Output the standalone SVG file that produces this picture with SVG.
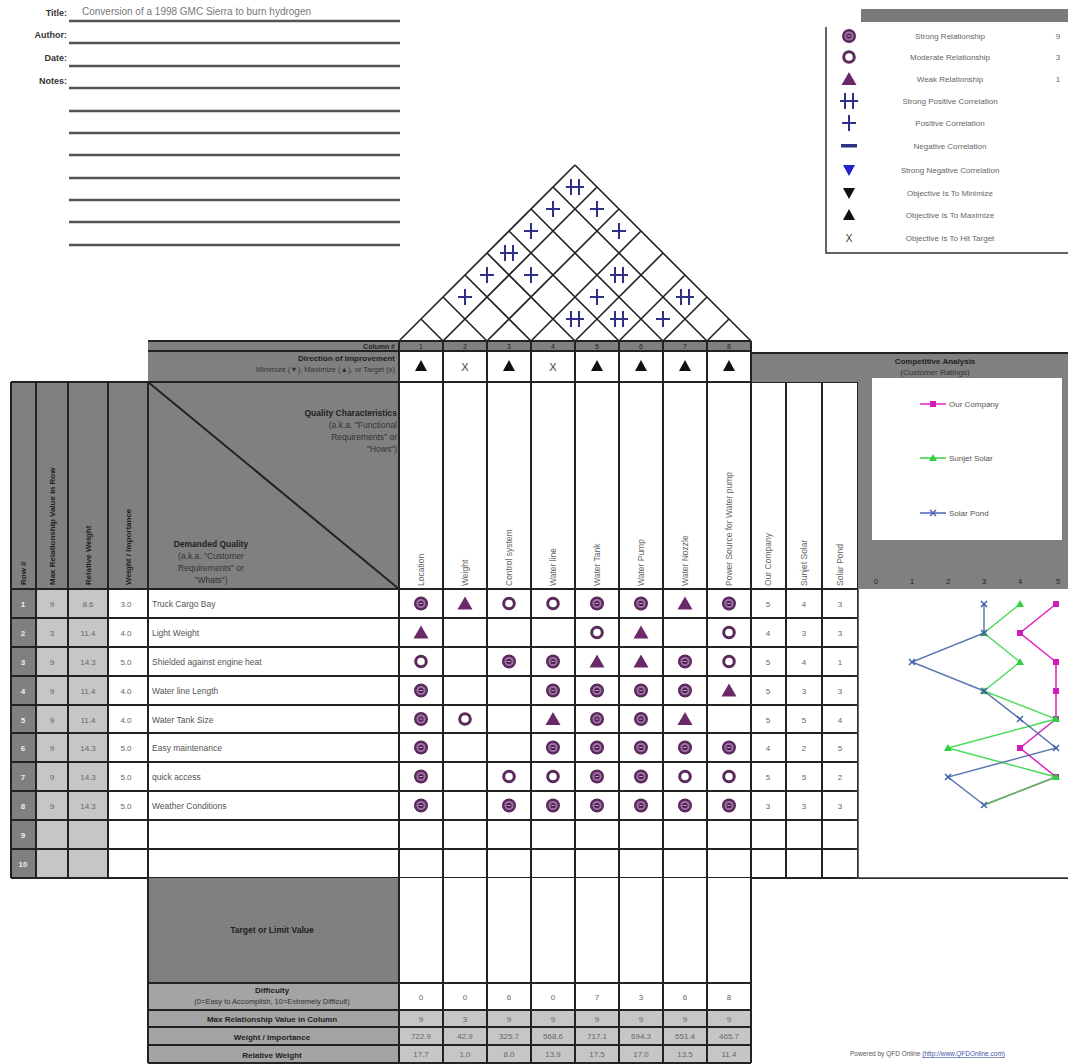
<svg xmlns="http://www.w3.org/2000/svg" width="1068" height="1064" viewBox="0 0 1068 1064">
<style>
text{font-family:"Liberation Sans",Arial,sans-serif;}
.lbl{font-size:9px;font-weight:bold;fill:#333;}
.ul{stroke:#555;stroke-width:2.5;}
.lg{font-size:8px;fill:#666;text-anchor:middle;}
.g{fill:#808080;}
.lgray{fill:#c6c6c6;}
.w{fill:#fff;}
.grid{stroke:#222;stroke-width:2;fill:none;}
.t{font-size:9px;fill:#555;}
.c{text-anchor:middle;}
.r{text-anchor:end;}
.b{font-weight:bold;fill:#222;}
.hd{font-size:8.5px;}
.roof{stroke:#222;stroke-width:1.6;fill:none;}
.val{font-size:8px;fill:#666;text-anchor:middle;}
</style>
<defs>
<g id="S"><circle r="7" fill="#5a2a5a"/><circle r="4.6" fill="#a070a8"/><circle r="2.6" fill="#4a1f4a"/><line x1="-1.6" y1="0" x2="1.6" y2="0" stroke="#d8b8d8" stroke-width="0.9"/></g>
<g id="M"><circle r="5.3" fill="#fff" stroke="#5a2a5a" stroke-width="3"/></g>
<g id="W"><polygon points="0,-7 7.5,6 -7.5,6" fill="#6a2a6a"/></g>
<g id="P"><path d="M-7,0H7M0,-8V8" stroke="#30308a" stroke-width="2" fill="none"/></g>
<g id="PP"><path d="M-9,0H9M-4,-8V8M4,-8V8" stroke="#30308a" stroke-width="2" fill="none"/></g>
<polygon id="UP" points="0,-6 6,5 -6,5" fill="#111"/>
</defs>

<g id="title-block">
<text class="lbl r" x="67" y="16">Title:</text>
<text x="82" y="15" style="font-size:10px;fill:#777">Conversion of a 1998 GMC Sierra to burn hydrogen</text>
<text class="lbl r" x="67" y="38">Author:</text>
<text class="lbl r" x="67" y="61">Date:</text>
<text class="lbl r" x="67" y="84">Notes:</text>
<path class="ul" d="M69,21H400M69,43H400M69,66H400M69,88H400M69,111H400M69,133H400M69,155H400M69,178H400M69,200H400M69,222H400M69,245H400"/>
</g>

<g id="legend">
<rect x="861" y="9" width="207" height="13" fill="#7a7a7a"/>
<path d="M826,27V253H1068" stroke="#333" stroke-width="1.5" fill="none"/>
<use href="#S" x="849" y="36"/>
<use href="#M" x="849" y="57"/>
<use href="#W" x="849" y="79"/>
<use href="#PP" x="849" y="101"/>
<use href="#P" x="849" y="123"/>
<rect x="841" y="144" width="16" height="3.5" fill="#30308a"/>
<polygon points="843,165 855,165 849,176" fill="#2222cc"/>
<polygon points="843,188 855,188 849,199" fill="#111"/>
<polygon points="849,209 855,220 843,220" fill="#111"/>
<text x="849" y="242" style="font-size:10px;fill:#333;text-anchor:middle">X</text>
<text class="lg" x="950" y="39">Strong Relationship</text>
<text class="lg" x="950" y="60">Moderate Relationship</text>
<text class="lg" x="950" y="82">Weak Relationship</text>
<text class="lg" x="950" y="104">Strong Positive Correlation</text>
<text class="lg" x="950" y="126">Positive Correlation</text>
<text class="lg" x="950" y="149">Negative Correlation</text>
<text class="lg" x="950" y="173">Strong Negative Correlation</text>
<text class="lg" x="950" y="196">Objective Is To Minimize</text>
<text class="lg" x="950" y="218">Objective Is To Maximize</text>
<text class="lg" x="950" y="241">Objective Is To Hit Target</text>
<text class="lg" x="1058" y="39">9</text>
<text class="lg" x="1058" y="60">3</text>
<text class="lg" x="1058" y="82">1</text>
</g>

<g id="roof">
<path class="roof" d="M399,341L575,165M443,341L597,187M487,341L619,209M531,341L641,231M575,341L663,253M619,341L685,275M663,341L707,297M707,341L729,319
M751,341L575,165M707,341L553,187M663,341L531,209M619,341L509,231M575,341L487,253M531,341L465,275M487,341L443,297M443,341L421,319"/>
<use href="#PP" x="575" y="187"/>
<use href="#P" x="553" y="209"/>
<use href="#P" x="597" y="209"/>
<use href="#P" x="531" y="231"/>
<use href="#P" x="619" y="231"/>
<use href="#PP" x="509" y="253"/>
<use href="#P" x="487" y="275"/>
<use href="#P" x="531" y="275"/>
<use href="#PP" x="619" y="275"/>
<use href="#P" x="465" y="297"/>
<use href="#P" x="597" y="297"/>
<use href="#PP" x="685" y="297"/>
<use href="#PP" x="575" y="319"/>
<use href="#PP" x="619" y="319"/>
<use href="#P" x="663" y="319"/>
</g>

<g id="column-header">
<rect class="g" x="148" y="341" width="603" height="10"/>
<rect class="g" x="148" y="351" width="251" height="31"/>
<rect class="w" x="399" y="351" width="352" height="31"/>
<text class="r b" x="395" y="349" style="font-size:7px">Column #</text>
<text class="r b" x="395" y="361" style="font-size:8px">Direction of Improvement</text>
<text class="r" x="395" y="372" style="font-size:7.5px;fill:#333">Minimize (▼), Maximize (▲), or Target (x)</text>
<g style="font-size:7px;fill:#222" text-anchor="middle">
<text x="421" y="349">1</text><text x="465" y="349">2</text><text x="509" y="349">3</text><text x="553" y="349">4</text><text x="597" y="349">5</text><text x="641" y="349">6</text><text x="685" y="349">7</text><text x="729" y="349">8</text>
</g>
<use href="#UP" x="421" y="366"/>
<text x="465" y="371" style="font-size:11px;fill:#444;text-anchor:middle">X</text>
<use href="#UP" x="509" y="366"/>
<text x="553" y="371" style="font-size:11px;fill:#444;text-anchor:middle">X</text>
<use href="#UP" x="597" y="366"/>
<use href="#UP" x="641" y="366"/>
<use href="#UP" x="685" y="366"/>
<use href="#UP" x="729" y="366"/>
<path class="grid" d="M148,341H751M148,351H751M399,341V382M443,341V382M487,341V382M531,341V382M575,341V382M619,341V382M663,341V382M707,341V382M751,341V382"/>
</g>

<g id="main-header">
<rect class="g" x="11" y="382" width="388" height="207"/>
<line x1="148" y1="382" x2="399" y2="589" stroke="#222" stroke-width="2"/>
<text class="r b" x="397" y="416" style="font-size:8.5px">Quality Characteristics</text>
<text class="r" x="397" y="428" style="font-size:8.5px;fill:#333">(a.k.a. "Functional</text>
<text class="r" x="397" y="440" style="font-size:8.5px;fill:#333">Requirements" or</text>
<text class="r" x="397" y="452" style="font-size:8.5px;fill:#333">"Hows")</text>
<text class="c b" x="211" y="547" style="font-size:8.5px">Demanded Quality</text>
<text class="c" x="211" y="559" style="font-size:8.5px;fill:#333">(a.k.a. "Customer</text>
<text class="c" x="211" y="571" style="font-size:8.5px;fill:#333">Requirements" or</text>
<text class="c" x="211" y="583" style="font-size:8.5px;fill:#333">"Whats")</text>
<g class="b" style="font-size:8px">
<text transform="translate(26,585) rotate(-90)">Row #</text>
<text transform="translate(55,585) rotate(-90)">Max Relationship Value in Row</text>
<text transform="translate(91,585) rotate(-90)">Relative Weight</text>
<text transform="translate(131,585) rotate(-90)">Weight / Importance</text>
</g>
<rect class="w" x="399" y="382" width="459" height="207"/>
<g style="font-size:8.5px;fill:#666">
<text transform="translate(424,586) rotate(-90)">Location</text>
<text transform="translate(468,586) rotate(-90)">Weight</text>
<text transform="translate(512,586) rotate(-90)">Control system</text>
<text transform="translate(556,586) rotate(-90)">Water line</text>
<text transform="translate(600,586) rotate(-90)">Water Tank</text>
<text transform="translate(644,586) rotate(-90)">Water Pump</text>
<text transform="translate(688,586) rotate(-90)">Water Nozzle</text>
<text transform="translate(732,586) rotate(-90)">Power Source for Water pump</text>
<text transform="translate(771,586) rotate(-90)">Our Company</text>
<text transform="translate(807,586) rotate(-90)">Sunjet Solar</text>
<text transform="translate(843,586) rotate(-90)">Solar Pond</text>
</g>
<path class="grid" d="M11,382H858M11,382V589M36,382V589M68,382V589M108,382V589M148,382V589M399,382V589M443,382V589M487,382V589M531,382V589M575,382V589M619,382V589M663,382V589M707,382V589M751,382V589M786,382V589M822,382V589M858,382V589"/>
</g>

<g id="competitive-header">
<rect class="g" x="751" y="353" width="317" height="29"/>
<rect class="g" x="858" y="382" width="210" height="207"/>
<text class="c b" x="935" y="364" style="font-size:8px">Competitive Analysis</text>
<text class="c" x="935" y="375" style="font-size:8px;fill:#333">(Customer Ratings)</text>
<rect x="872" y="378" width="190" height="162" fill="#fff"/>
<line x1="920" y1="404" x2="946" y2="404" stroke="#e020c0" stroke-width="1.5"/>
<rect x="930" y="401" width="6" height="6" fill="#d01cb8"/>
<text x="949" y="407" style="font-size:8px;fill:#555">Our Company</text>
<line x1="920" y1="458" x2="946" y2="458" stroke="#30d040" stroke-width="1.5"/>
<polygon points="933,454 937,461 929,461" fill="#30d040"/>
<text x="949" y="461" style="font-size:8px;fill:#555">Sunjet Solar</text>
<line x1="920" y1="513" x2="946" y2="513" stroke="#5060b8" stroke-width="1.5"/>
<path d="M930,510L936,516M936,510L930,516" stroke="#5060b8" stroke-width="1.5"/>
<text x="949" y="516" style="font-size:8px;fill:#555">Solar Pond</text>
<g style="font-size:7.5px;fill:#222" text-anchor="middle">
<text x="876" y="584">0</text><text x="912" y="584">1</text><text x="948" y="584">2</text><text x="984" y="584">3</text><text x="1020" y="584">4</text><text x="1058" y="584">5</text>
</g>
<path class="grid" d="M751,353H1068M751,353V382"/>
</g>

<g id="rows">
<rect class="g" x="11" y="589" width="25" height="289"/>
<rect class="lgray" x="36" y="589" width="72" height="289"/>
<rect class="w" x="108" y="589" width="750" height="289"/>
<g style="font-size:8px;fill:#eee;font-weight:bold" text-anchor="middle">
<text x="23" y="607">1</text><text x="23" y="636">2</text><text x="23" y="665">3</text><text x="23" y="694">4</text><text x="23" y="723">5</text><text x="23" y="751">6</text><text x="23" y="780">7</text><text x="23" y="809">8</text><text x="23" y="838">9</text><text x="23" y="867">10</text>
</g>
<g class="val">
<text x="52" y="607">9</text><text x="52" y="636">3</text><text x="52" y="665">9</text><text x="52" y="694">9</text><text x="52" y="723">9</text><text x="52" y="751">9</text><text x="52" y="780">9</text><text x="52" y="809">9</text>
<text x="88" y="607">8.6</text><text x="88" y="636">11.4</text><text x="88" y="665">14.3</text><text x="88" y="694">11.4</text><text x="88" y="723">11.4</text><text x="88" y="751">14.3</text><text x="88" y="780">14.3</text><text x="88" y="809">14.3</text>
<text x="126" y="607">3.0</text><text x="126" y="636">4.0</text><text x="126" y="665">5.0</text><text x="126" y="694">4.0</text><text x="126" y="723">4.0</text><text x="126" y="751">5.0</text><text x="126" y="780">5.0</text><text x="126" y="809">5.0</text>
</g>
<g style="font-size:8.5px;fill:#555">
<text x="152" y="607">Truck Cargo Bay</text>
<text x="152" y="636">Light Weight</text>
<text x="152" y="665">Shielded against engine heat</text>
<text x="152" y="694">Water line Length</text>
<text x="152" y="723">Water Tank Size</text>
<text x="152" y="751">Easy maintenance</text>
<text x="152" y="780">quick access</text>
<text x="152" y="809">Weather Conditions</text>
</g>
<g class="val">
<text x="768" y="607">5</text><text x="804" y="607">4</text><text x="840" y="607">3</text>
<text x="768" y="636">4</text><text x="804" y="636">3</text><text x="840" y="636">3</text>
<text x="768" y="665">5</text><text x="804" y="665">4</text><text x="840" y="665">1</text>
<text x="768" y="694">5</text><text x="804" y="694">3</text><text x="840" y="694">3</text>
<text x="768" y="723">5</text><text x="804" y="723">5</text><text x="840" y="723">4</text>
<text x="768" y="751">4</text><text x="804" y="751">2</text><text x="840" y="751">5</text>
<text x="768" y="780">5</text><text x="804" y="780">5</text><text x="840" y="780">2</text>
<text x="768" y="809">3</text><text x="804" y="809">3</text><text x="840" y="809">3</text>
</g>
<path class="grid" d="M11,589H858M11,618H858M11,647H858M11,676H858M11,705H858M11,733H858M11,762H858M11,791H858M11,820H858M11,849H858M11,878H1068
M11,589V878M36,589V878M68,589V878M108,589V878M148,589V878M399,589V878M443,589V878M487,589V878M531,589V878M575,589V878M619,589V878M663,589V878M707,589V878M751,589V878M786,589V878M822,589V878M858,589V878"/>
</g>

<g id="matrix">
<use href="#S" x="421" y="603.5"/><use href="#W" x="465" y="603.5"/><use href="#M" x="509" y="603.5"/><use href="#M" x="553" y="603.5"/><use href="#S" x="597" y="603.5"/><use href="#S" x="641" y="603.5"/><use href="#W" x="685" y="603.5"/><use href="#S" x="729" y="603.5"/>
<use href="#W" x="421" y="632.5"/><use href="#M" x="597" y="632.5"/><use href="#W" x="641" y="632.5"/><use href="#M" x="729" y="632.5"/>
<use href="#M" x="421" y="661.5"/><use href="#S" x="509" y="661.5"/><use href="#S" x="553" y="661.5"/><use href="#W" x="597" y="661.5"/><use href="#W" x="641" y="661.5"/><use href="#S" x="685" y="661.5"/><use href="#M" x="729" y="661.5"/>
<use href="#S" x="421" y="690.5"/><use href="#S" x="553" y="690.5"/><use href="#S" x="597" y="690.5"/><use href="#S" x="641" y="690.5"/><use href="#S" x="685" y="690.5"/><use href="#W" x="729" y="690.5"/>
<use href="#S" x="421" y="719"/><use href="#M" x="465" y="719"/><use href="#W" x="553" y="719"/><use href="#S" x="597" y="719"/><use href="#S" x="641" y="719"/><use href="#W" x="685" y="719"/>
<use href="#S" x="421" y="747.5"/><use href="#S" x="553" y="747.5"/><use href="#S" x="597" y="747.5"/><use href="#S" x="641" y="747.5"/><use href="#S" x="685" y="747.5"/><use href="#S" x="729" y="747.5"/>
<use href="#S" x="421" y="776.5"/><use href="#M" x="509" y="776.5"/><use href="#M" x="553" y="776.5"/><use href="#S" x="597" y="776.5"/><use href="#S" x="641" y="776.5"/><use href="#M" x="685" y="776.5"/><use href="#M" x="729" y="776.5"/>
<use href="#S" x="421" y="805.5"/><use href="#S" x="509" y="805.5"/><use href="#S" x="553" y="805.5"/><use href="#S" x="597" y="805.5"/><use href="#S" x="641" y="805.5"/><use href="#S" x="685" y="805.5"/><use href="#S" x="729" y="805.5"/>
</g>

<g id="chart">
<rect x="858" y="589" width="210" height="289" fill="#fff"/>
<path d="M858,589V878M854,589H858M854,618H858M854,647H858M854,676H858M854,705H858M854,733H858M854,762H858M854,791H858M854,820H858M854,849H858M854,878H1068" stroke="#333" stroke-width="1.5" fill="none"/>
<polyline points="1056,604 1020,633 1056,662 1056,691 1056,719 1020,748 1056,777 984,805" fill="none" stroke="#e020c0" stroke-width="1.5"/>
<g fill="#d01cb8"><rect x="1053" y="601" width="6" height="6"/><rect x="1017" y="630" width="6" height="6"/><rect x="1053" y="659" width="6" height="6"/><rect x="1053" y="688" width="6" height="6"/><rect x="1053" y="716" width="6" height="6"/><rect x="1017" y="745" width="6" height="6"/><rect x="1053" y="774" width="6" height="6"/></g>
<polyline points="1020,604 984,633 1020,662 984,691 1056,719 948,748 1056,777 984,805" fill="none" stroke="#38d848" stroke-width="1.5" opacity="0.9"/>
<g fill="#30d040"><polygon points="1020,600 1024,607 1016,607"/><polygon points="984,629 988,636 980,636"/><polygon points="1020,658 1024,665 1016,665"/><polygon points="984,687 988,694 980,694"/><polygon points="1056,715 1060,722 1052,722"/><polygon points="948,744 952,751 944,751"/><polygon points="1056,773 1060,780 1052,780"/></g>
<polyline points="984,604 984,633 912,662 984,691 1020,719 1056,748 948,777 984,805" fill="none" stroke="#4a6aa8" stroke-width="1.5" opacity="0.9"/>
<path d="M981,601l6,6m0,-6l-6,6M981,630l6,6m0,-6l-6,6M909,659l6,6m0,-6l-6,6M981,688l6,6m0,-6l-6,6M1017,716l6,6m0,-6l-6,6M1053,745l6,6m0,-6l-6,6M945,774l6,6m0,-6l-6,6M981,802l6,6m0,-6l-6,6" stroke="#4060b0" stroke-width="1.5"/>
</g>

<g id="bottom">
<rect class="g" x="148" y="878" width="251" height="105"/>
<rect x="148" y="983" width="251" height="80" fill="#a4a4a4"/>
<rect class="w" x="399" y="878" width="352" height="132"/>
<rect class="lgray" x="399" y="1010" width="352" height="53"/>
<text class="c b" x="272" y="933" style="font-size:8.5px">Target or Limit Value</text>
<text class="c b" x="272" y="993" style="font-size:8px">Difficulty</text>
<text class="c" x="272" y="1004" style="font-size:7.5px;fill:#333">(0=Easy to Accomplish, 10=Extremely Difficult)</text>
<text class="c b" x="272" y="1022" style="font-size:8px">Max Relationship Value in Column</text>
<text class="c b" x="272" y="1040" style="font-size:8px">Weight / Importance</text>
<text class="c b" x="272" y="1058" style="font-size:8px">Relative Weight</text>
<g class="val">
<text x="421" y="1000">0</text><text x="465" y="1000">0</text><text x="509" y="1000">6</text><text x="553" y="1000">0</text><text x="597" y="1000">7</text><text x="641" y="1000">3</text><text x="685" y="1000">6</text><text x="729" y="1000">8</text>
<text x="421" y="1022">9</text><text x="465" y="1022">3</text><text x="509" y="1022">9</text><text x="553" y="1022">9</text><text x="597" y="1022">9</text><text x="641" y="1022">9</text><text x="685" y="1022">9</text><text x="729" y="1022">9</text>
<text x="421" y="1039">722.9</text><text x="465" y="1039">42.9</text><text x="509" y="1039">325.7</text><text x="553" y="1039">568.6</text><text x="597" y="1039">717.1</text><text x="641" y="1039">694.3</text><text x="685" y="1039">551.4</text><text x="729" y="1039">465.7</text>
<text x="421" y="1057">17.7</text><text x="465" y="1057">1.0</text><text x="509" y="1057">8.0</text><text x="553" y="1057">13.9</text><text x="597" y="1057">17.5</text><text x="641" y="1057">17.0</text><text x="685" y="1057">13.5</text><text x="729" y="1057">11.4</text>
</g>
<path class="grid" d="M148,878V1063M148,983H751M148,1010H751M148,1027H751M148,1045H751M148,1063H751M399,878V1063M443,878V1063M487,878V1063M531,878V1063M575,878V1063M619,878V1063M663,878V1063M707,878V1063M751,878V1063"/>
</g>

<g id="footer">
<text x="850" y="1056" style="font-size:6.5px;fill:#555">Powered by QFD Online <tspan fill="#4455aa" text-decoration="underline">(http://www.QFDOnline.com)</tspan></text>
</g>
</svg>
